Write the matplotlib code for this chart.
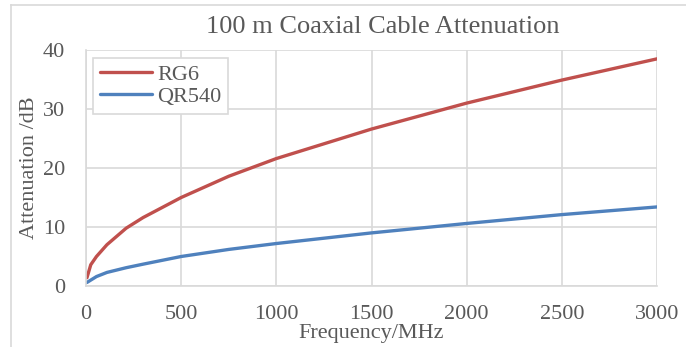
import matplotlib
matplotlib.use("Agg")
import matplotlib.pyplot as plt
from matplotlib.lines import Line2D

# Frequency points in MHz and attenuation per 100 m in dB
rg6_freq = [5, 25, 55, 110, 211, 300, 500, 750, 1000, 1500, 2000, 2500, 3000]
rg6_atten = [1.4, 3.6, 5.0, 7.0, 9.8, 11.6, 15.0, 18.6, 21.6, 26.6, 31.0, 34.9, 38.5]

qr540_freq = [5, 55, 110, 211, 300, 500, 750, 1000, 1500, 2000, 2500, 3000]
qr540_atten = [0.6, 1.6, 2.3, 3.1, 3.7, 5.0, 6.2, 7.2, 9.0, 10.6, 12.1, 13.4]

x_ticks = [0, 500, 1000, 1500, 2000, 2500, 3000]
y_ticks = [0, 10, 20, 30, 40]

text_color = "#595959"
grid_color = "#d9d9d9"
font = "Liberation Serif"

fig = plt.figure(figsize=(6.86, 3.47), dpi=100)
ax = fig.add_axes([86 / 686, 1 - 286 / 347, (657 - 86) / 686, (286 - 50) / 347])

# Outer chart border (continues past the image edges)
fig.add_artist(Line2D([11 / 686, 11 / 686], [0, 1 - 5 / 347], color=grid_color, lw=1.2))
fig.add_artist(Line2D([11 / 686, 1], [1 - 5 / 347, 1 - 5 / 347], color=grid_color, lw=1.2))

ax.plot(rg6_freq, rg6_atten, color="#c0504d", lw=2.4, label="RG6", solid_capstyle="round")
ax.plot(qr540_freq, qr540_atten, color="#4f81bd", lw=2.4, label="QR540", solid_capstyle="round")

ax.set_xlim(0, 3000)
ax.set_ylim(0, 40)
ax.set_xticks(x_ticks)
ax.set_yticks(y_ticks)
ax.grid(True, color=grid_color, lw=1.2)
ax.set_axisbelow(True)
for side in ax.spines:
    ax.spines[side].set_visible(False)
for side in ["left", "bottom"]:
    ax.spines[side].set_visible(True)
    ax.spines[side].set_color(grid_color)
    ax.spines[side].set_linewidth(1.2)
ax.tick_params(length=0, labelcolor=text_color, labelsize=16)
ax.tick_params(axis="y", pad=15)
ax.tick_params(axis="x", pad=14)
for lab in ax.get_xticklabels() + ax.get_yticklabels():
    lab.set_fontfamily(font)

# Title sits slightly right of the plot centre, as in the original chart
ax.set_title("100 m Coaxial Cable Attenuation", fontsize=19, color=text_color,
             fontfamily=font, pad=12, x=0.519)
ax.set_xlabel("Frequency/MHz", fontsize=16, color=text_color, fontfamily=font, labelpad=0)
ax.set_ylabel("Attenuation /dB", fontsize=16, color=text_color, fontfamily=font, labelpad=3)

leg = ax.legend(loc="upper left", bbox_to_anchor=(0.012, 0.966), fancybox=False,
                prop={"family": font, "size": 16}, labelcolor=text_color,
                handlelength=2.35, handletextpad=0.25, borderpad=0.3, labelspacing=0.05,
                borderaxespad=0.0, framealpha=1)
leg.get_frame().set_edgecolor(grid_color)
leg.get_frame().set_linewidth(1.2)

fig.savefig("out.png", dpi=100)
